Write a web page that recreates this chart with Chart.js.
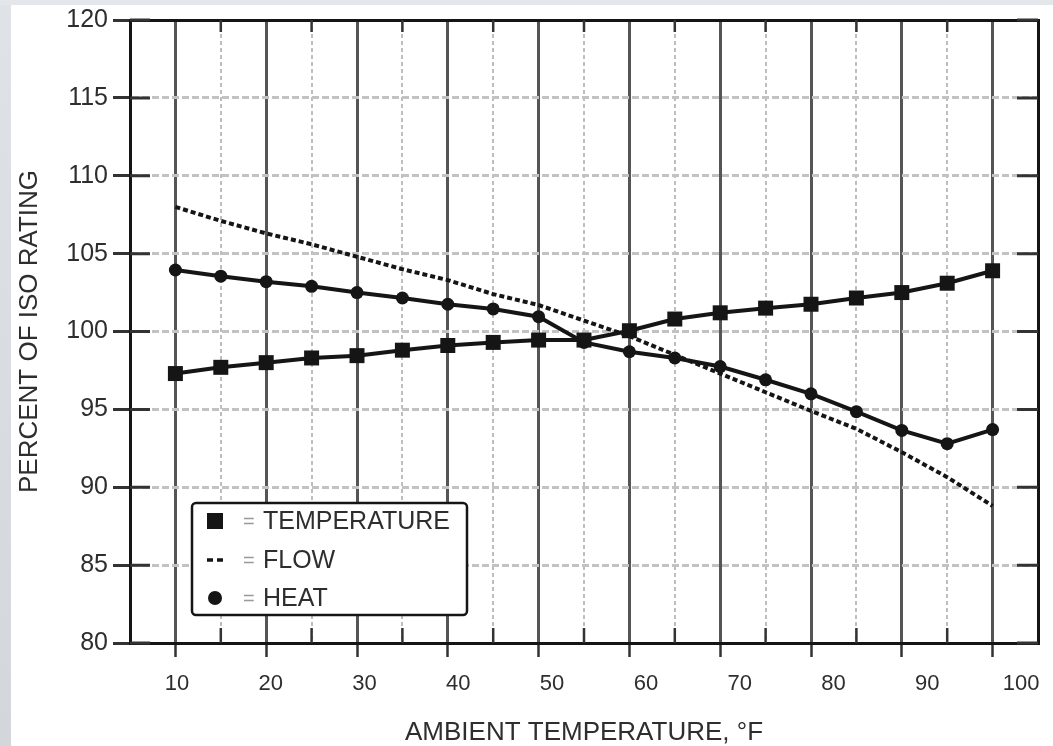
<!DOCTYPE html>
<html>
<head>
<meta charset="utf-8">
<script src="https://cdn.jsdelivr.net/npm/chart.js@4.4.1/dist/chart.umd.min.js"></script>
<style>
  html, body { margin: 0; padding: 0; background: #fff; }
  #wrap { position: relative; width: 1053px; height: 746px; overflow: hidden; }
  #stripLeft { position: absolute; left: 0; top: 0; width: 11px; height: 746px; background: linear-gradient(#dfe3e8, #d3d6da); }
  #stripTop { position: absolute; left: 0; top: 0; width: 1053px; height: 5px; background: #e3e7ec; }
  #chart { position: absolute; left: 0; top: 0; }
</style>
</head>
<body>
<div id="wrap">
  <div id="stripLeft"></div>
  <div id="stripTop"></div>
  <canvas id="chart" width="1053" height="746"></canvas>
</div>
<script>
// ambient temperature, °F
const temps = [10, 15, 20, 25, 30, 35, 40, 45, 50, 55, 60, 65, 70, 75, 80, 85, 90, 95, 100];

// percent of ISO rating
const tempVals = [97.3, 97.7, 98.0, 98.3, 98.45, 98.8, 99.1, 99.3, 99.45, 99.45, 100.05, 100.8, 101.2, 101.5, 101.75, 102.15, 102.5, 103.1, 103.9];
const flowVals = [108.0, 107.1, 106.3, 105.6, 104.8, 104.0, 103.3, 102.4, 101.7, 100.7, 99.7, 98.5, 97.3, 96.1, 94.9, 93.75, 92.25, 90.65, 88.8];
const heatVals = [103.95, 103.55, 103.2, 102.9, 102.5, 102.15, 101.75, 101.45, 100.95, 99.3, 98.7, 98.3, 97.75, 96.9, 96.0, 94.85, 93.65, 92.8, 93.7];

const xMajor = [10, 20, 30, 40, 50, 60, 70, 80, 90, 100];
const xMinor = [15, 25, 35, 45, 55, 65, 75, 85, 95];
const xLabels = [10, 20, 30, 40, 50, 60, 70, 80, 90, 100];

const seriesNames = ['TEMPERATURE', 'FLOW', 'HEAT'];

const FONT = "'Liberation Sans', Arial, sans-serif";
const INK = '#151515';
const TEXT = '#2e2e2e';

const pts = vals => temps.map((t, i) => ({ x: t, y: vals[i] }));
const setTicks = list => axis => { axis.ticks = list.map(v => ({ value: v })); };

// short ticks that sit just inside the frame
const innerTicks = {
    id: 'innerTicks',
    beforeDatasetsDraw(chart) {
        const { ctx, chartArea: a, scales } = chart;
        ctx.save();
        ctx.strokeStyle = '#333';
        ctx.lineWidth = 3;
        ctx.beginPath();
        scales.y.ticks.forEach(t => {
            const y = scales.y.getPixelForValue(t.value);
            ctx.moveTo(a.left, y); ctx.lineTo(a.left + 20, y);
            ctx.moveTo(a.right - 21, y); ctx.lineTo(a.right, y);
        });
        ctx.stroke();
        ctx.lineWidth = 2.5;
        ctx.beginPath();
        xMinor.forEach(v => {
            const x = scales.x.getPixelForValue(v);
            ctx.moveTo(x, a.top); ctx.lineTo(x, a.top + 12);
            ctx.moveTo(x, a.bottom - 15); ctx.lineTo(x, a.bottom);
        });
        ctx.stroke();
        ctx.restore();
    }
};

// boxed legend in the lower left of the plot
const boxLegend = {
    id: 'boxLegend',
    afterDraw(chart) {
        const { ctx, chartArea: a } = chart;
        const bx = a.left + 62, by = a.top + 483, bw = 275, bh = 112;
        ctx.save();
        ctx.fillStyle = '#fff';
        ctx.strokeStyle = INK;
        ctx.lineWidth = 2.5;
        ctx.beginPath();
        ctx.roundRect(bx, by, bw, bh, 4);
        ctx.fill();
        ctx.stroke();

        const rows = [by + 18, by + 57, by + 95];
        const mx = bx + 23;
        ctx.fillStyle = INK;
        // square
        ctx.fillRect(mx - 8, rows[0] - 8, 16, 16);
        // dashes
        ctx.strokeStyle = INK;
        ctx.lineWidth = 3.5;
        ctx.setLineDash([6, 4]);
        ctx.beginPath();
        ctx.moveTo(mx - 8, rows[1]); ctx.lineTo(mx + 8, rows[1]);
        ctx.stroke();
        ctx.setLineDash([]);
        // circle
        ctx.beginPath();
        ctx.arc(mx, rows[2], 7, 0, Math.PI * 2);
        ctx.fill();

        ctx.textBaseline = 'middle';
        seriesNames.forEach((name, i) => {
            ctx.font = `20px ${FONT}`;
            ctx.fillStyle = '#9a9a9a';
            ctx.fillText('=', bx + 51, rows[i] + 1);
            ctx.font = `25px ${FONT}`;
            ctx.fillStyle = TEXT;
            ctx.fillText(name, bx + 71, rows[i] + 1);
        });
        ctx.restore();
    }
};

new Chart(document.getElementById('chart'), {
    type: 'line',
    data: {
        datasets: [
            {
                label: seriesNames[0],
                data: pts(tempVals),
                borderColor: INK,
                backgroundColor: INK,
                borderWidth: 4,
                pointStyle: 'rect',
                pointRadius: 10.6,
                pointBorderWidth: 0,
                tension: 0
            },
            {
                label: seriesNames[1],
                data: pts(flowVals),
                borderColor: INK,
                borderWidth: 4,
                borderDash: [5, 3],
                pointRadius: 0,
                tension: 0
            },
            {
                label: seriesNames[2],
                data: pts(heatVals),
                borderColor: INK,
                backgroundColor: INK,
                borderWidth: 4,
                pointStyle: 'circle',
                pointRadius: 6.5,
                pointBorderWidth: 0,
                tension: 0
            }
        ]
    },
    options: {
        responsive: false,
        animation: false,
        layout: { padding: { left: 12, right: 7, top: 11, bottom: 0 } },
        plugins: {
            legend: { display: false },
            tooltip: { enabled: false }
        },
        scales: {
            x: {
                type: 'linear', position: 'bottom', min: 5, max: 105,
                afterBuildTicks: setTicks(xMajor),
                ticks: { display: false },
                grid: { color: '#555', lineWidth: 3, tickLength: 14, tickColor: '#333', tickWidth: 2.5 },
                border: { display: true, color: INK, width: 3 }
            },
            xMinor: {
                type: 'linear', position: 'bottom', min: 5, max: 105,
                afterBuildTicks: setTicks(xMinor),
                ticks: { display: false },
                grid: { color: '#bdbdbd', lineWidth: 2, drawTicks: false },
                border: { display: false, dash: [4, 3] }
            },
            xl: {
                type: 'linear', position: 'bottom', min: 5, max: 101.8,
                afterBuildTicks: setTicks(xLabels),
                afterFit: s => { s.height = 89; },
                ticks: { color: TEXT, font: { family: FONT, size: 22 }, padding: 6 },
                grid: { display: false },
                border: { display: false },
                title: {
                    display: true, text: 'AMBIENT TEMPERATURE, °F',
                    color: TEXT, font: { family: FONT, size: 26, lineHeight: 1 }, padding: { top: 0, bottom: 0 }
                }
            },
            xTop: {
                type: 'linear', position: 'top', min: 5, max: 105,
                ticks: { display: false },
                grid: { display: false },
                border: { display: true, color: INK, width: 3 }
            },
            y: {
                type: 'linear', position: 'left', min: 80, max: 120,
                ticks: { stepSize: 5, color: TEXT, font: { family: FONT, size: 25 }, padding: 5 },
                afterFit: s => { s.width = 118; },
                grid: {
                    color: c => (c.tick && (c.tick.value === 80 || c.tick.value === 120)) ? 'rgba(0,0,0,0)' : '#c2c2c2',
                    lineWidth: 3, tickLength: 17, tickColor: '#333', tickWidth: 3
                },
                border: { display: true, color: INK, width: 3, dash: [7, 3] },
                title: {
                    display: true, text: 'PERCENT OF ISO RATING',
                    color: TEXT, font: { family: FONT, size: 26 }, padding: { top: 2, bottom: 0 }
                }
            },
            yRight: {
                type: 'linear', position: 'right', min: 80, max: 120,
                ticks: { display: false },
                grid: { display: false },
                border: { display: true, color: INK, width: 3 }
            }
        }
    },
    plugins: [innerTicks, boxLegend]
});
</script>
</body>
</html>
